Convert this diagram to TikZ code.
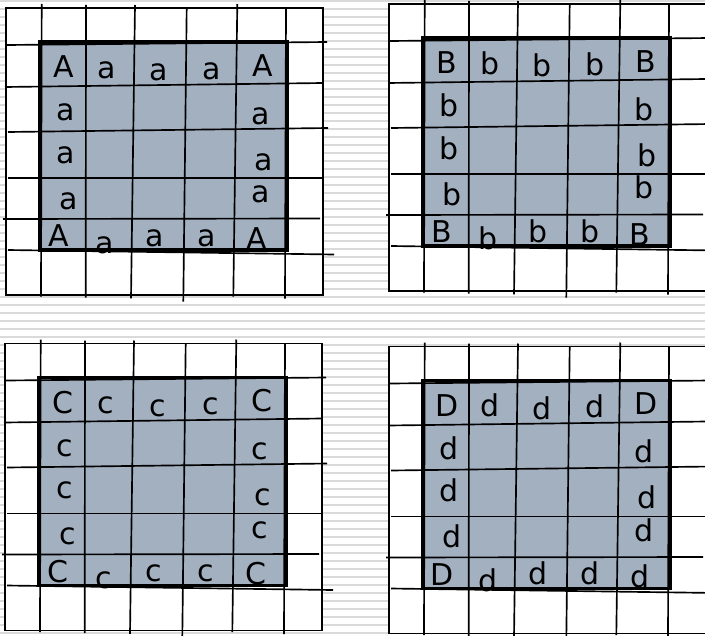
\documentclass[tikz,border=0pt]{standalone}
\usepackage{fontspec}
\setmainfont{DejaVu Sans}
\definecolor{stripe}{RGB}{218,218,218}
\definecolor{shade}{RGB}{163,176,192}
\tikzset{
  gridline/.style={line width=1.25pt, black},
  boxline/.style={line width=1.3pt, black, fill=white},
  shadebox/.style={fill=shade},
  shadeborder/.style={line width=2.4pt, black},
  letter/.style={inner sep=0pt, anchor=base, font=\fontsize{22.5}{27}\selectfont},
  stripeline/.style={line width=1.5pt, stripe},
}
\newcommand\gridpanel[6]{%
\begin{scope}[shift={(#2,#3)}]
  \draw[boxline] (6,8) rectangle (323,295);
  \fill[shadebox] (40,42) rectangle (287,250);
  % vertical lines
  \draw[gridline] (41.7,4) -- (41,296.7);
  \draw[gridline] (86,5) -- (85.7,297.7);
  \draw[gridline] (135,5) -- (131,298.3);
  \draw[gridline] (186.7,8) -- (183.3,301.7);
  \draw[gridline] (237.3,4) -- (233.3,296.7);
  \draw[gridline] (286,8) -- (285,298.5);
  % horizontal lines
  \draw[gridline] (7,45) -- (327,42);
  \draw[gridline] (5,87) -- (323,83);
  \draw[gridline] (8,132) -- (328,128);
  \draw[gridline] (8,178) -- (323,178);
  \draw[gridline] (3,219) -- (320,218.5);
  \draw[gridline] (8,250) -- (334,254.5);
  \draw[shadeborder] (40,42) rectangle (287,250);
  % letters
  \node[letter] (#1t1) at (63.7,77.7) {#4};
  \node[letter] (#1t2) at (107,78.3) {#5};
  \node[letter] (#1t3) at (159,80.7) {#5};
  \node[letter] (#1t4) at (212,79.3) {#5};
  \node[letter] (#1t5) at (263,76) {#4};
  \node[letter] (#1l2) at (66,120.7) {#5};
  \node[letter] (#1l3) at (66,163) {#5};
  \node[letter] (#1l4) at (69,209) {#5};
  \node[letter] (#1b1) at (59,246.7) {#4};
  \node[letter] (#1r2) at (261,124) {#5};
  \node[letter] (#1r3) at (264,170) {#5};
  \node[letter] (#1r4) at (261,202.7) {#5};
  \node[letter] (#1b2) at (105,253.3) {#5};
  \node[letter] (#1b3) at (155,246) {#5};
  \node[letter] (#1b4) at (207,246) {#5};
  \node[letter] (#1b5) at (257,249.3) {#6};
\end{scope}}
\begin{document}
\begin{tikzpicture}[x=0.75pt, y=-0.75pt]
  \useasboundingbox (0,0) rectangle (705,635);
  \clip (0,0) rectangle (705,635);
  \fill[white] (0,0) rectangle (705,635);
  \foreach \k in {0,...,79} {
    \draw[stripeline] (0,1+8*\k) -- (705,1+8*\k);
  }
  \gridpanel{pa}{0}{0}{A}{a}{A}
  \gridpanel{pb}{383}{-4}{B}{b}{B}
  \gridpanel{pc}{-1}{335.5}{C}{c}{C}
  \gridpanel{pd}{383}{338.5}{D}{d}{d}
\end{tikzpicture}
\end{document}
